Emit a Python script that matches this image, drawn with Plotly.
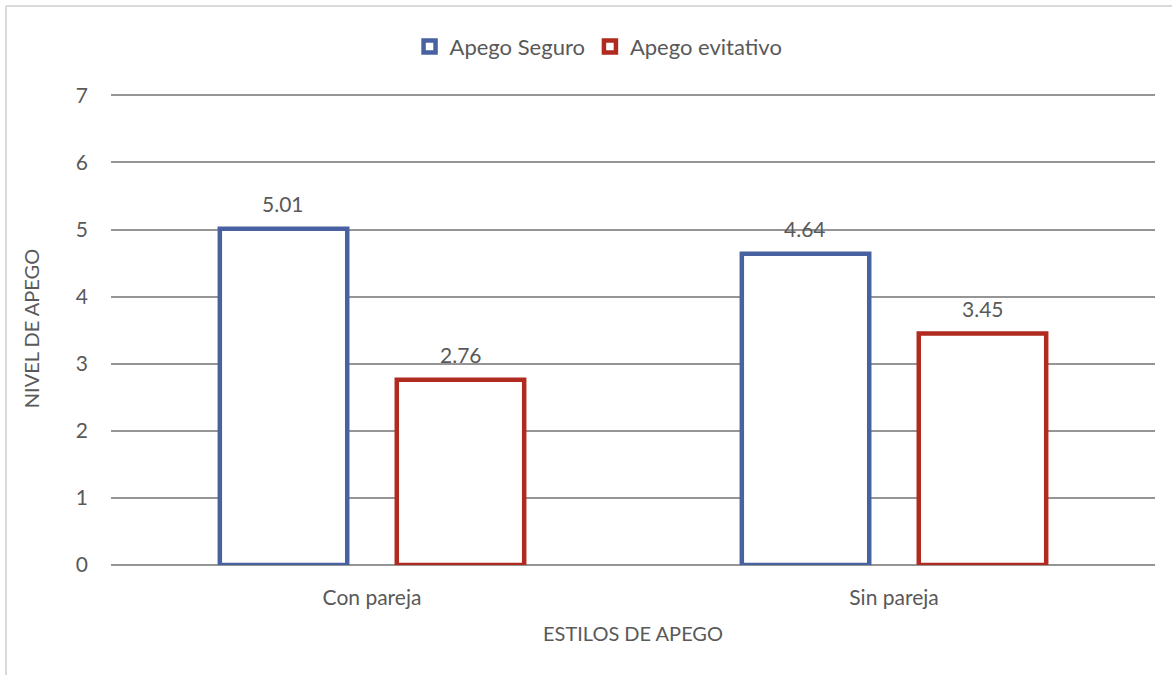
import plotly.graph_objects as go

# Data
categories = ["Con pareja", "Sin pareja"]
seguro = [5.01, 4.64]
evitativo = [2.76, 3.45]
series_names = ["Apego Seguro", "Apego evitativo"]
y_ticks = [0, 1, 2, 3, 4, 5, 6, 7]

BLUE = "#4862A1"
RED = "#B02A20"
GRID = "#959595"
TEXT = "#595959"
FONT = "Lato, Open Sans, sans-serif"

# Plot-area geometry in pixels (used for the frame lines)
W, H = 1172, 675
ML, MR, MT, MB = 111, 17, 92, 110
PW, PH = W - ML - MR, H - MT - MB

fig = go.Figure()
for name, vals, col in [(series_names[0], seguro, BLUE), (series_names[1], evitativo, RED)]:
    fig.add_trace(go.Bar(
        name=name, x=categories, y=vals,
        marker=dict(color="white", line=dict(color=col, width=4.5)),
    ))

# Value labels above each bar
for ci, cat in enumerate(categories):
    for si, vals in enumerate([seguro, evitativo]):
        fig.add_annotation(
            x=ci + (-0.17 if si == 0 else 0.17), y=vals[ci], xref="x", yref="y",
            text=f"{vals[ci]:.2f}", showarrow=False, yanchor="bottom", yshift=11,
            font=dict(family=FONT, size=21, color=TEXT),
        )

frame_x = -(ML - 6) / PW
frame_y = (PH + MT - 6) / PH
fig.update_layout(
    width=W, height=H,
    margin=dict(l=ML, r=MR, t=MT, b=MB),
    paper_bgcolor="white", plot_bgcolor="white",
    barmode="group", bargap=0.322, bargroupgap=0.28,
    font=dict(family=FONT, size=21, color=TEXT),
    legend=dict(orientation="h", x=0.467, xanchor="center", y=0.962, yref="container",
                yanchor="top", font=dict(family=FONT, size=22, color=TEXT),
                traceorder="normal"),
    xaxis=dict(
        type="category", showgrid=False, showline=False, zeroline=False,
        ticks="", tickfont=dict(family=FONT, size=21, color=TEXT), ticklabelstandoff=18,
        title=dict(text="ESTILOS DE APEGO", font=dict(family=FONT, size=20, color=TEXT), standoff=18),
    ),
    yaxis=dict(
        range=[0, 7.05], tickvals=y_ticks, showgrid=True, gridcolor=GRID, gridwidth=1.5,
        zeroline=True, zerolinecolor=GRID, zerolinewidth=1.5, showline=False,
        ticks="", tickfont=dict(family=FONT, size=21, color=TEXT), ticklabelstandoff=22,
        title=dict(text="NIVEL DE APEGO", font=dict(family=FONT, size=20, color=TEXT), standoff=30),
    ),
    shapes=[
        dict(type="line", xref="paper", yref="paper", x0=frame_x, x1=frame_x,
             y0=-MB / PH, y1=frame_y, line=dict(color="#D9D9D9", width=2)),
        dict(type="line", xref="paper", yref="paper", x0=frame_x, x1=(PW + MR) / PW,
             y0=frame_y, y1=frame_y, line=dict(color="#D9D9D9", width=2)),
    ],
)

fig.write_html("out.html")
